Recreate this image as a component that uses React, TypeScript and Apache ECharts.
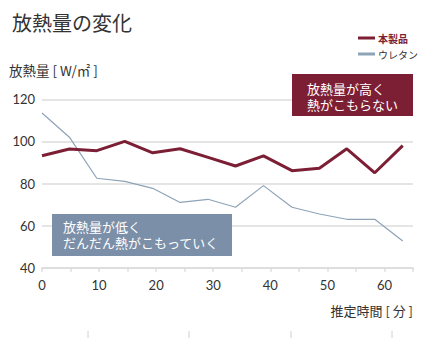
import React, { useEffect, useRef } from "react";
import * as echarts from "echarts";

const times = [0, 4.8, 9.6, 14.5, 19.4, 24.2, 29.1, 33.9, 38.8, 43.8, 48.6, 53.4, 58.3, 63.2];
const productValues = [93.2, 96.4, 95.6, 100.0, 94.6, 96.5, 92.4, 88.3, 93.1, 86.1, 87.2, 96.5, 85.1, 98.0];
const urethaneValues = [113.5, 102.0, 82.5, 81.0, 77.7, 71.0, 72.5, 68.7, 79.0, 68.7, 65.5, 63.0, 63.0, 52.7];
const seriesNames = ["本製品", "ウレタン"];
const xTicks = [0, 10, 20, 30, 40, 50, 60];
const highNote = ["放熱量が高く", "熱がこもらない"];
const lowNote = ["放熱量が低く", "だんだん熱がこもっていく"];

const RED = "#7c1f35";
const BLUE_LINE = "#8ea3b8";
const BLUE_BOX = "#7b8fa8";
const FONT = "'Noto Sans CJK JP', 'Noto Sans', sans-serif";

function noteLines(lines: string[], x: number, yFirst: number, gap: number) {
  return lines.map((t, i) => ({
    type: "text",
    x,
    y: yFirst + i * gap,
    z: 11,
    style: {
      text: t,
      fontSize: 13,
      lineHeight: 14,
      fill: "#fff",
      fontFamily: FONT,
      verticalAlign: "middle",
    },
  }));
}

export default function App() {
  const ref = useRef<HTMLDivElement>(null);
  useEffect(() => {
    if (!ref.current) return;
    const chart = echarts.init(ref.current, null, { renderer: "svg" });
    chart.setOption({
      animation: false,
      textStyle: { fontFamily: FONT },
      title: {
        text: "放熱量の変化",
        left: 7,
        top: 7,
        textStyle: { fontSize: 20, fontWeight: "normal", color: "#333", fontFamily: FONT },
      },
      legend: {
        orient: "vertical",
        left: 353,
        top: 28,
        itemWidth: 17,
        itemHeight: 3,
        itemGap: 6,
        icon: "rect",
        textStyle: { fontSize: 10, fontFamily: FONT, padding: [0, 0, 0, -2] },
        data: [
          { name: seriesNames[0], textStyle: { color: RED, fontWeight: "bold" } },
          { name: seriesNames[1], textStyle: { color: "#333" } },
        ],
      },
      grid: { left: 42, right: 9, top: 99.3, bottom: 70.3 },
      xAxis: {
        type: "value",
        min: 0,
        max: 65,
        interval: 5,
        axisLine: { show: true, lineStyle: { color: "#dcdcdc", width: 1.5 } },
        axisTick: { show: true, length: 4, lineStyle: { color: "#dcdcdc", width: 1.5 } },
        splitLine: { show: false },
        axisLabel: {
          margin: 11,
          fontSize: 13,
          color: "#333",
          fontFamily: "'Lato', 'Noto Sans', sans-serif",
          formatter: (v: number) => (xTicks.includes(v) ? String(v) : ""),
        },
      },
      yAxis: {
        type: "value",
        min: 40,
        max: 120,
        interval: 20,
        axisLine: { show: false },
        axisTick: { show: false },
        splitLine: { show: true, lineStyle: { color: "#dcdcdc", width: 1.5 } },
        axisLabel: {
          margin: 7,
          fontSize: 13,
          color: "#333",
          fontFamily: "'Lato', 'Noto Sans', sans-serif",
        },
      },
      graphic: [
        {
          type: "text",
          left: 9,
          top: 63,
          style: { text: "放熱量 [ W/㎡ ]", fontSize: 13.5, fill: "#333", fontFamily: FONT },
        },
        {
          type: "text",
          right: 9,
          top: 304,
          style: { text: "推定時間 [ 分 ]", fontSize: 13, fill: "#333", fontFamily: FONT },
        },
        {
          type: "rect",
          shape: { x: 292, y: 74, width: 121, height: 42 },
          style: { fill: RED },
          z: 10,
        },
        ...noteLines(highNote, 307, 88, 16),
        {
          type: "rect",
          shape: { x: 52, y: 214, width: 180, height: 42 },
          style: { fill: BLUE_BOX },
          z: 10,
        },
        ...noteLines(lowNote, 63, 226, 16.5),
        ...[88, 189, 291, 392].map((x) => ({
          type: "line",
          shape: { x1: x, y1: 331, x2: x, y2: 338 },
          style: { stroke: "#d0d0d0", lineWidth: 1 },
        })),
      ],
      series: [
        {
          name: seriesNames[1],
          type: "line",
          data: times.map((t, i) => [t, urethaneValues[i]]),
          symbol: "none",
          lineStyle: { color: BLUE_LINE, width: 1.2 },
          itemStyle: { color: BLUE_LINE },
          z: 2,
        },
        {
          name: seriesNames[0],
          type: "line",
          data: times.map((t, i) => [t, productValues[i]]),
          symbol: "none",
          lineStyle: { color: RED, width: 3 },
          itemStyle: { color: RED },
          z: 3,
        },
      ],
    });
    return () => chart.dispose();
  }, []);
  return (
    <div
      ref={ref}
      style={{ position: "fixed", left: 0, top: 0, width: 422, height: 338, background: "#fff" }}
    />
  );
}
